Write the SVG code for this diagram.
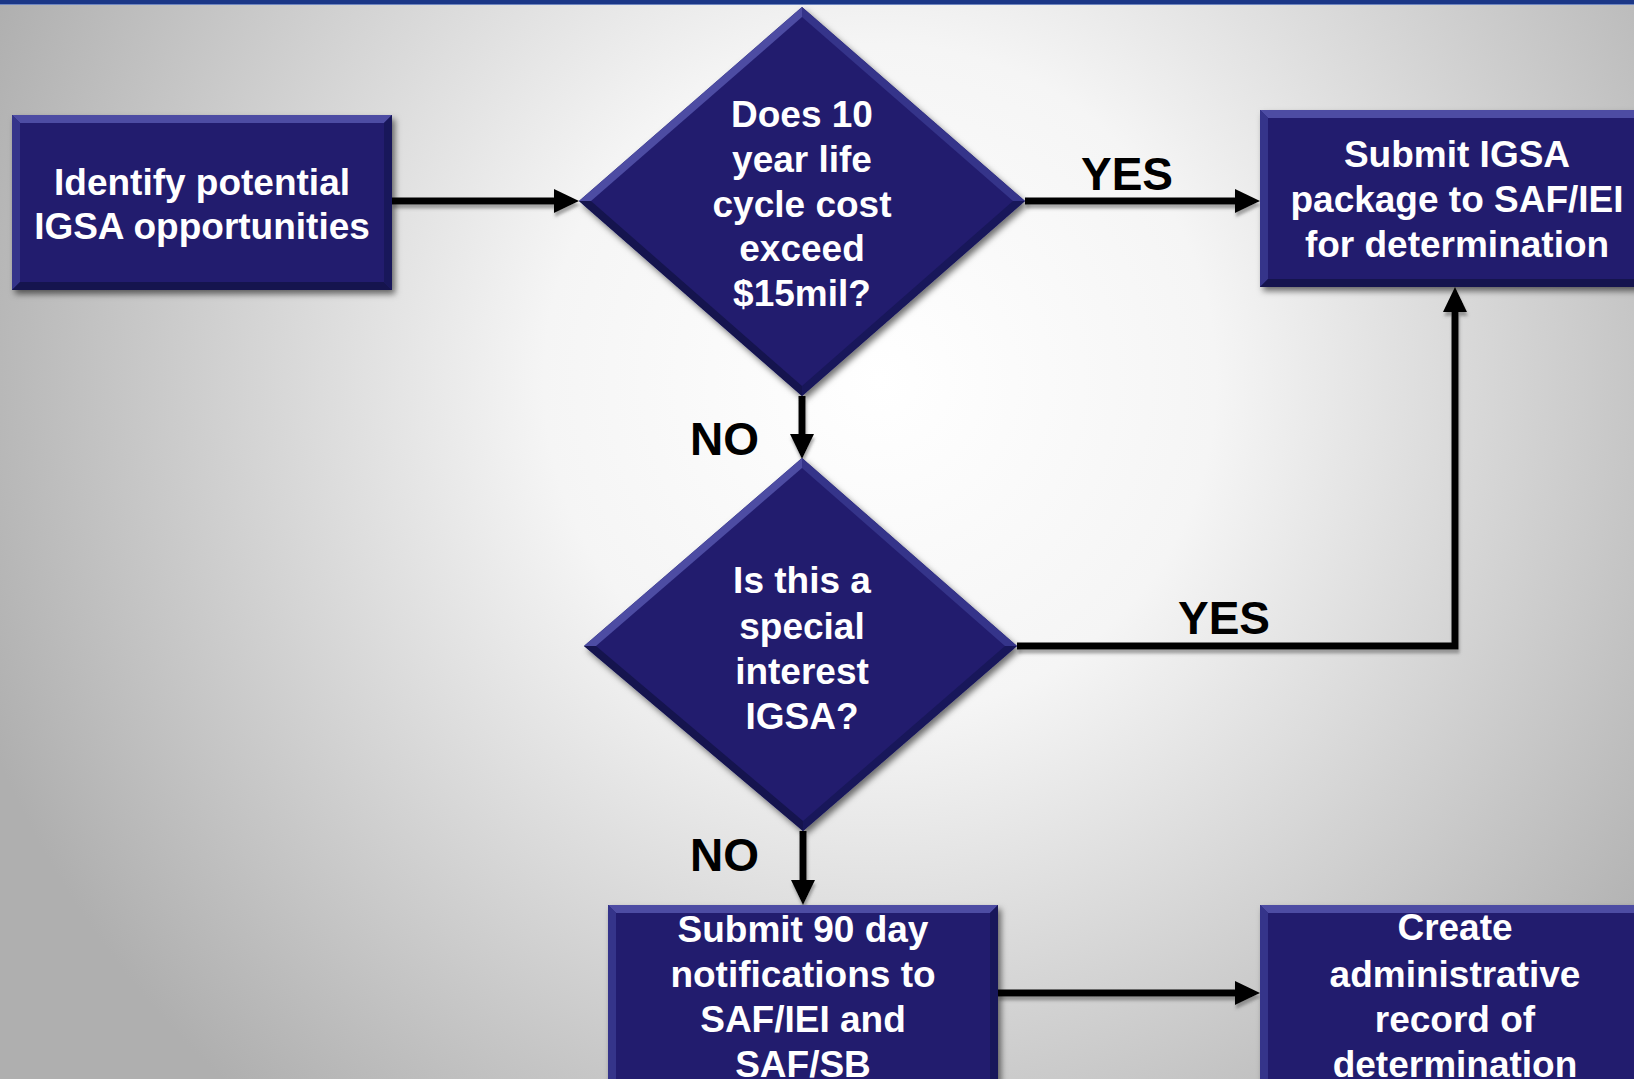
<svg xmlns="http://www.w3.org/2000/svg" width="1634" height="1079" viewBox="0 0 1634 1079">
<defs>
  <radialGradient id="bg" cx="880" cy="380" r="960" gradientUnits="userSpaceOnUse">
    <stop offset="0" stop-color="#ffffff"/>
    <stop offset="0.35" stop-color="#f5f5f5"/>
    <stop offset="1" stop-color="#afafaf"/>
  </radialGradient>
  <filter id="sh" x="-10%" y="-10%" width="130%" height="130%">
    <feDropShadow dx="3" dy="4" stdDeviation="3" flood-color="#000" flood-opacity="0.55"/>
  </filter>
  <filter id="lsh" x="-10%" y="-50%" width="120%" height="200%">
    <feDropShadow dx="1" dy="4" stdDeviation="1.5" flood-color="#555" flood-opacity="0.5"/>
  </filter>
  <marker id="arr" viewBox="0 0 25 24" refX="12" refY="12" markerWidth="25" markerHeight="24" markerUnits="userSpaceOnUse" orient="auto">
    <path d="M0,0 L25,12 L0,24 z" fill="#000"/>
  </marker>
  <style>
    .face{fill:#201f6e}
    .hl{fill:#4d4ca3}
    .hl2{fill:#35348a}
    .dk{fill:#15144e}
    .dk2{fill:#18175a}
    .t{font-family:"Liberation Sans",Arial,sans-serif;font-weight:bold;font-size:37px;fill:#ffffff;text-anchor:middle}
    .lbl{font-family:"Liberation Sans",Arial,sans-serif;font-weight:bold;font-size:46px;fill:#000000}
    .c{fill:none;stroke:#000;stroke-width:7}
  </style>
</defs>

<rect x="0" y="0" width="1634" height="1079" fill="url(#bg)"/>
<rect x="0" y="0" width="1634" height="4" fill="#1b3787"/>
<rect x="0" y="4" width="1634" height="1" fill="#6f86c0"/>

<g id="connectors" filter="url(#lsh)">
  <line class="c" x1="392" y1="201" x2="566" y2="201" marker-end="url(#arr)"/>
  <line class="c" x1="1025" y1="201" x2="1247" y2="201" marker-end="url(#arr)"/>
  <line class="c" x1="802" y1="396" x2="802" y2="446" marker-end="url(#arr)"/>
  <polyline class="c" points="1017,646 1455,646 1455,300" marker-end="url(#arr)"/>
  <line class="c" x1="803" y1="831" x2="803" y2="892" marker-end="url(#arr)"/>
  <line class="c" x1="998" y1="993" x2="1247" y2="993" marker-end="url(#arr)"/>
</g>

<g id="labels">
  <text class="lbl" x="1081" y="190">YES</text>
  <text class="lbl" x="690" y="455">NO</text>
  <text class="lbl" x="1178" y="634">YES</text>
  <text class="lbl" x="690" y="871">NO</text>
</g>

<g id="node-identify">
  <g filter="url(#sh)">
    <rect class="face" x="12" y="115" width="380" height="175"/>
  </g>
  <polygon class="hl" points="12,115 392,115 384,123 20,123"/>
  <polygon class="hl2" points="12,115 20,123 20,282 12,290"/>
  <polygon class="dk" points="12,290 20,282 384,282 392,290"/>
  <polygon class="dk2" points="392,115 392,290 384,282 384,123"/>
  <text class="t" x="202" y="195">Identify potential</text>
  <text class="t" x="202" y="239">IGSA opportunities</text>
</g>

<g id="node-decision1">
  <g filter="url(#sh)">
    <polygon class="face" points="802,7 1025,201 802,396 579,201"/>
  </g>
  <polygon class="hl" points="802,7 802,17 591,201 579,201"/>
  <polygon class="hl2" points="802,7 1025,201 1013,201 802,17"/>
  <polygon class="dk" points="579,201 591,201 802,386 802,396"/>
  <polygon class="dk2" points="1025,201 802,396 802,386 1013,201"/>
  <text class="t" x="802" y="127">Does 10</text>
  <text class="t" x="802" y="172">year life</text>
  <text class="t" x="802" y="217">cycle cost</text>
  <text class="t" x="802" y="261">exceed</text>
  <text class="t" x="802" y="306">$15mil?</text>
</g>

<g id="node-submit-igsa">
  <g filter="url(#sh)">
    <rect class="face" x="1260" y="110" width="394" height="177"/>
  </g>
  <polygon class="hl" points="1260,110 1654,110 1646,118 1268,118"/>
  <polygon class="hl2" points="1260,110 1268,118 1268,279 1260,287"/>
  <polygon class="dk" points="1260,287 1268,279 1646,279 1654,287"/>
  <text class="t" x="1457" y="167">Submit IGSA</text>
  <text class="t" x="1457" y="212">package to SAF/IEI</text>
  <text class="t" x="1457" y="257">for determination</text>
</g>

<g id="node-decision2">
  <g filter="url(#sh)">
    <polygon class="face" points="802,458 1017,646 803,831 584,646"/>
  </g>
  <polygon class="hl" points="802,458 802,468 596,646 584,646"/>
  <polygon class="hl2" points="802,458 1017,646 1005,646 802,468"/>
  <polygon class="dk" points="584,646 596,646 803,821 803,831"/>
  <polygon class="dk2" points="1017,646 803,831 803,821 1005,646"/>
  <text class="t" x="802" y="593">Is this a</text>
  <text class="t" x="802" y="639">special</text>
  <text class="t" x="802" y="684">interest</text>
  <text class="t" x="802" y="729">IGSA?</text>
</g>

<g id="node-submit-90">
  <g filter="url(#sh)">
    <rect class="face" x="608" y="905" width="390" height="200"/>
  </g>
  <polygon class="hl" points="608,905 998,905 990,913 616,913"/>
  <polygon class="hl2" points="608,905 616,913 616,1100 608,1100"/>
  <polygon class="dk2" points="998,905 998,1100 990,1100 990,913"/>
  <text class="t" x="803" y="942">Submit 90 day</text>
  <text class="t" x="803" y="987">notifications to</text>
  <text class="t" x="803" y="1032">SAF/IEI and</text>
  <text class="t" x="803" y="1077">SAF/SB</text>
</g>

<g id="node-create-record">
  <g filter="url(#sh)">
    <rect class="face" x="1260" y="905" width="394" height="200"/>
  </g>
  <polygon class="hl" points="1260,905 1654,905 1646,913 1268,913"/>
  <polygon class="hl2" points="1260,905 1268,913 1268,1100 1260,1100"/>
  <text class="t" x="1455" y="940">Create</text>
  <text class="t" x="1455" y="987">administrative</text>
  <text class="t" x="1455" y="1032">record of</text>
  <text class="t" x="1455" y="1077">determination</text>
</g>
</svg>
